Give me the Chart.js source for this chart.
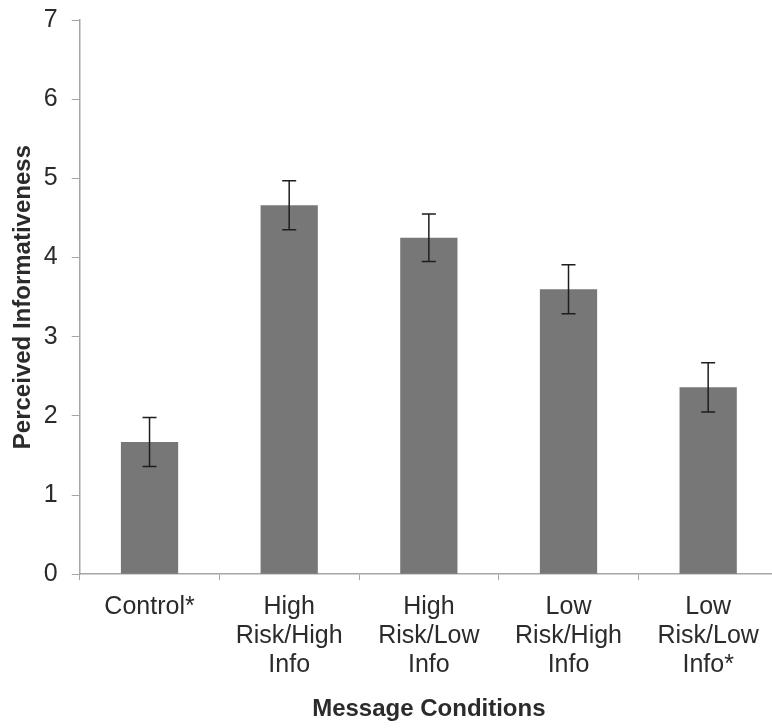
<!DOCTYPE html>
<html>
<head>
<meta charset="utf-8">
<script src="https://cdn.jsdelivr.net/npm/chart.js@4/dist/chart.umd.min.js"></script>
<style>
  html, body { margin: 0; padding: 0; background: #fff; overflow: hidden; }
  #wrap { width: 778px; height: 728px; }
</style>
</head>
<body>
<div id="wrap"><canvas id="chart"></canvas></div>
<script>
// Perceived informativeness by message condition

const conditions = [
  'Control*',
  ['High', 'Risk/High', 'Info'],
  ['High', 'Risk/Low', 'Info'],
  ['Low', 'Risk/High', 'Info'],
  ['Low', 'Risk/Low', 'Info*']
];
const means = [1.67, 4.66, 4.25, 3.60, 2.36];
const errors = [0.31, 0.31, 0.30, 0.31, 0.31];
const yTicks = [0, 1, 2, 3, 4, 5, 6, 7];

const FONT = "'Liberation Sans', Arial, sans-serif";
const axisGray = '#a6a6a6';
const textColor = '#2b2b2b';

// draws the +/- error whiskers on top of each bar
const errorBars = {
  id: 'errorBars',
  afterDatasetsDraw(chart) {
    const ctx = chart.ctx;
    const y = chart.scales.y;
    const meta = chart.getDatasetMeta(0);
    ctx.save();
    ctx.strokeStyle = '#1e1e1e';
    ctx.lineWidth = 1.5;
    meta.data.forEach((bar, i) => {
      const top = y.getPixelForValue(means[i] + errors[i]);
      const bottom = y.getPixelForValue(means[i] - errors[i]);
      const cap = 7;
      ctx.beginPath();
      ctx.moveTo(bar.x, top);
      ctx.lineTo(bar.x, bottom);
      ctx.moveTo(bar.x - cap, top);
      ctx.lineTo(bar.x + cap, top);
      ctx.moveTo(bar.x - cap, bottom);
      ctx.lineTo(bar.x + cap, bottom);
      ctx.stroke();
    });
    ctx.restore();
  }
};

new Chart(document.getElementById('chart'), {
  type: 'bar',
  data: {
    labels: conditions,
    datasets: [{
      label: 'Perceived Informativeness',
      data: means,
      backgroundColor: '#777777',
      borderWidth: 0,
      barPercentage: 0.41,
      categoryPercentage: 1
    }]
  },
  options: {
    responsive: true,
    maintainAspectRatio: false,
    animation: false,
    layout: { padding: { top: 0, left: 0, right: 0, bottom: 0 } },
    plugins: {
      legend: { display: false },
      tooltip: { enabled: false }
    },
    scales: {
      x: {
        grid: { drawOnChartArea: false, color: axisGray, tickLength: 6 },
        border: { color: axisGray, width: 1.5 },
        ticks: {
          color: textColor,
          font: { family: FONT, size: 25, lineHeight: 1.16 },
          padding: 12,
          maxRotation: 0,
          autoSkip: false
        },
        title: {
          display: true,
          text: 'Message Conditions',
          color: textColor,
          font: { family: FONT, size: 24, weight: 'bold', lineHeight: 1.2 },
          padding: { top: 4, bottom: 4 }
        }
      },
      y: {
        min: 0,
        max: 7,
        afterBuildTicks(axis) { axis.ticks = yTicks.map(v => ({ value: v })); },
        afterFit(axis) { axis.paddingTop = 20; },
        grid: { drawOnChartArea: false, color: axisGray, tickLength: 8 },
        border: { color: axisGray, width: 1.5 },
        ticks: {
          color: textColor,
          font: { family: FONT, size: 25 },
          padding: 14
        },
        title: {
          display: true,
          text: 'Perceived Informativeness',
          color: textColor,
          font: { family: FONT, size: 24, weight: 'bold', lineHeight: 1.2 },
          padding: { top: 9, bottom: -8 }
        }
      }
    }
  },
  plugins: [errorBars]
});
</script>
</body>
</html>
